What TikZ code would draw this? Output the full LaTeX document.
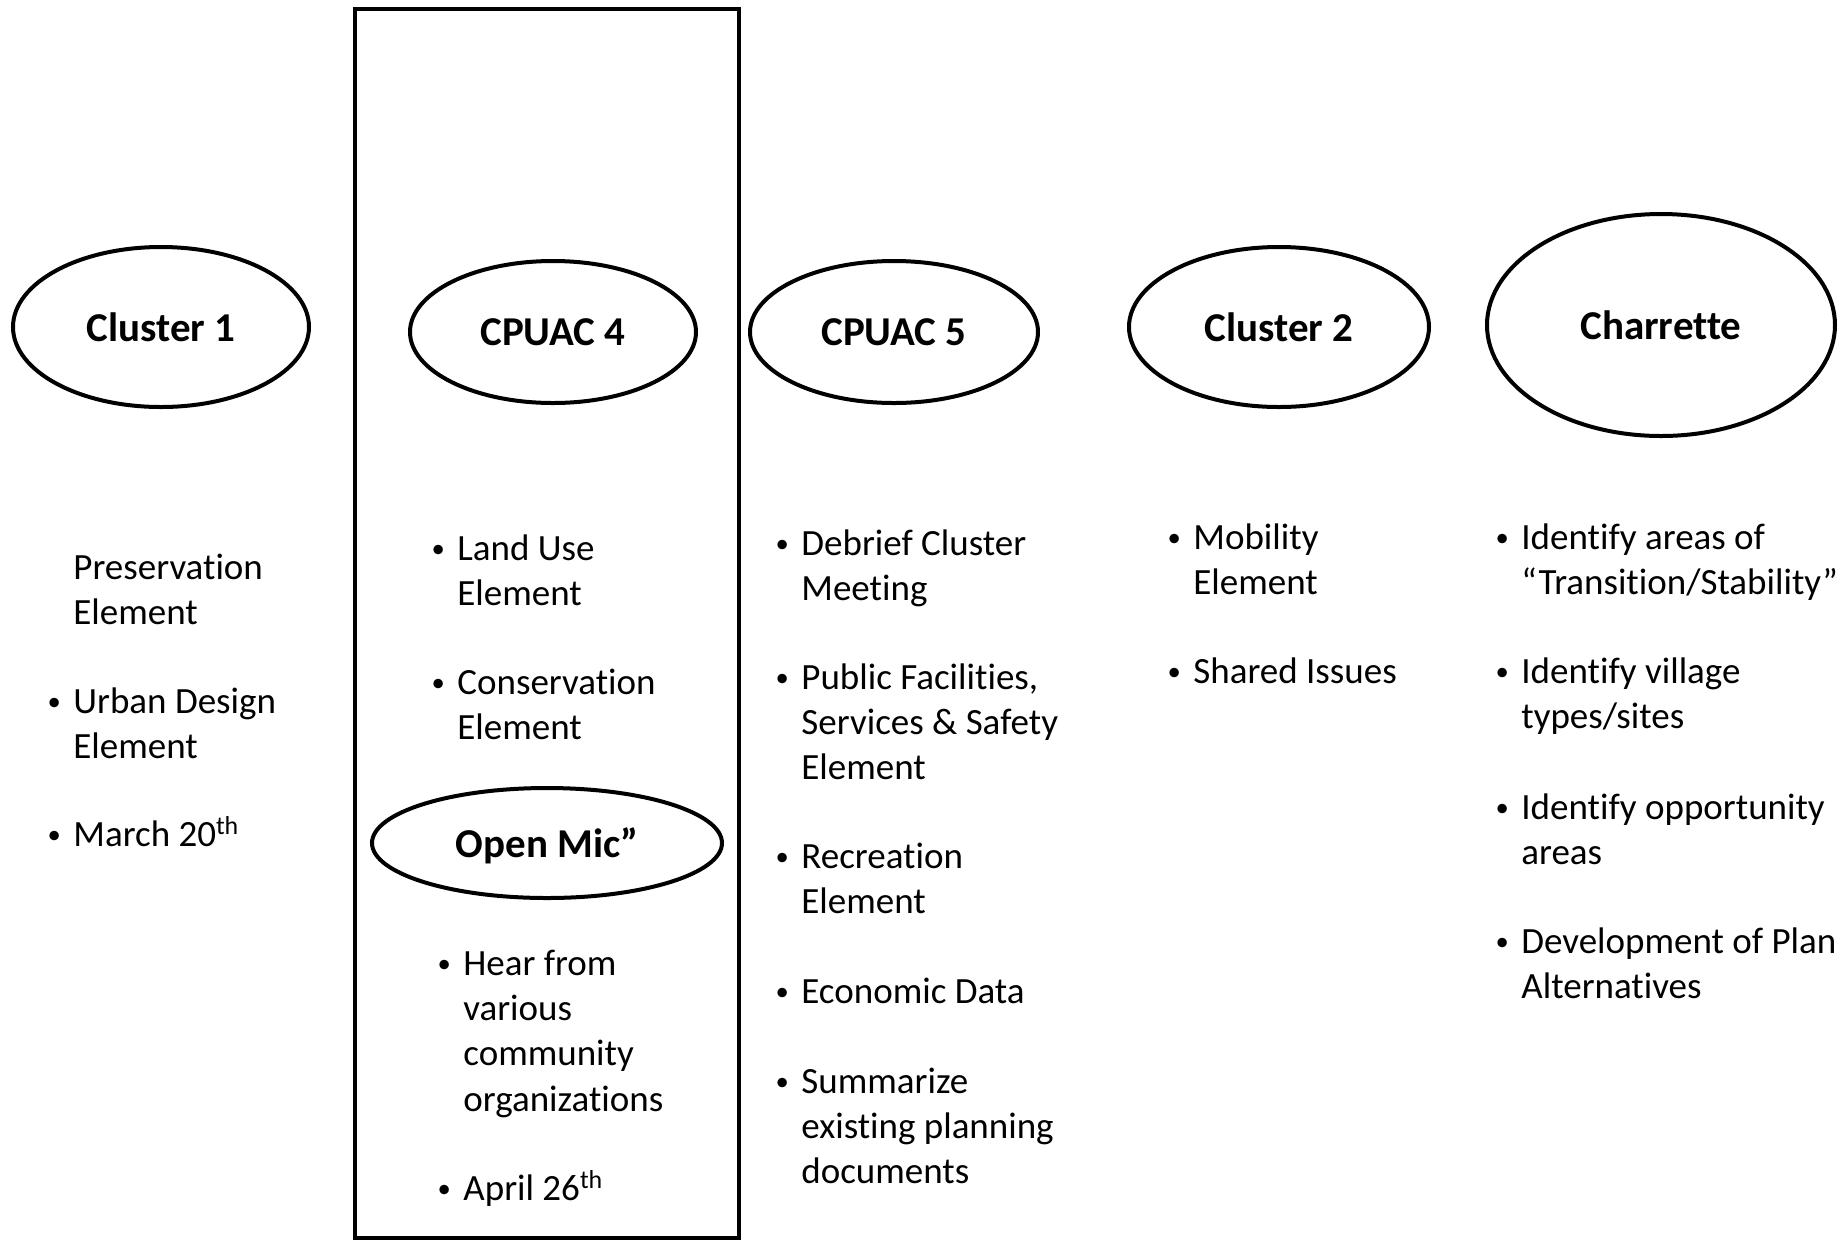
\documentclass[tikz,border=0pt]{standalone}
\usepackage{fontspec}
\usepackage{graphicx}
\setmainfont{Carlito}[Ligatures=NoCommon]
\usetikzlibrary{shapes.geometric}
% first-line strut and hanging bullet for list items
\newcommand\lead{\rule{0pt}{15pt}}
\newcommand\bl{\lead\llap{\raisebox{1.6pt}{\scalebox{0.72}{\textbullet}}\hspace{6.2pt}}}
\begin{document}
\begin{tikzpicture}[x=0.5pt,y=-0.5pt,
  stage/.style={draw, ellipse, line width=2pt, inner sep=0pt,
    font=\fontsize{20.5}{24}\selectfont\bfseries},
  item/.style={anchor=north west, inner sep=0pt, align=left,
    font=\fontsize{18.5}{22.6}\selectfont},
  frame/.style={draw, line width=2.2pt}]
\useasboundingbox (0,0) rectangle (1844,1239);

% highlighted column
\draw[frame] (355,9) rectangle (739,1238);

% stages
\node[stage, minimum width=148pt, minimum height=80pt] (c1) at (161,327) {Cluster 1};
\node[stage, minimum width=143pt, minimum height=71pt] (cp4) at (553,332) {CPUAC 4};
\node[stage, minimum width=144pt, minimum height=71pt] (cp5) at (894,332) {CPUAC 5};
\node[stage, minimum width=150pt, minimum height=80pt] (c2) at (1279,327) {Cluster 2};
\node[stage, minimum width=174pt, minimum height=111pt] (ch) at (1661,325) {Charrette};
\node[stage, minimum width=175pt, minimum height=55pt, text depth=0pt] (om) at (547,843) {Open Mic”};

% Cluster 1
\node[item] (c1a) at (73,549) {\lead Preservation\\Element};
\node[item] (c1b) at (73,683) {\bl Urban Design\\Element};
\node[item] (c1c) at (73,816) {\bl March 20\textsuperscript{th}};

% CPUAC 4
\node[item] (cp4a) at (457,530) {\bl Land Use\\Element};
\node[item] (cp4b) at (457,664) {\bl Conservation\\Element};
\node[item] (oma) at (463,945) {\bl Hear from\\various\\community\\organizations};
\node[item] (omb) at (463,1170) {\bl April 26\textsuperscript{th}};

% CPUAC 5
\node[item] (cp5a) at (801,525) {\bl Debrief Cluster\\Meeting};
\node[item] (cp5b) at (801,659) {\bl Public Facilities,\\Services \& Safety\\Element};
\node[item] (cp5c) at (801,838) {\bl Recreation\\Element};
\node[item] (cp5d) at (801,973) {\bl Economic Data};
\node[item] (cp5e) at (801,1063) {\bl Summarize\\existing planning\\documents};

% Cluster 2
\node[item] (c2a) at (1193,519) {\bl Mobility\\Element};
\node[item] (c2b) at (1193,653) {\bl Shared Issues};

% Charrette
\node[item] (cha) at (1521,519) {\bl Identify areas of\\“Transition/Stability”};
\node[item] (chb) at (1521,653) {\bl Identify village\\types/sites};
\node[item] (chc) at (1521,789) {\bl Identify opportunity\\areas};
\node[item] (chd) at (1521,923) {\bl Development of Plan\\Alternatives};
\end{tikzpicture}
\end{document}
